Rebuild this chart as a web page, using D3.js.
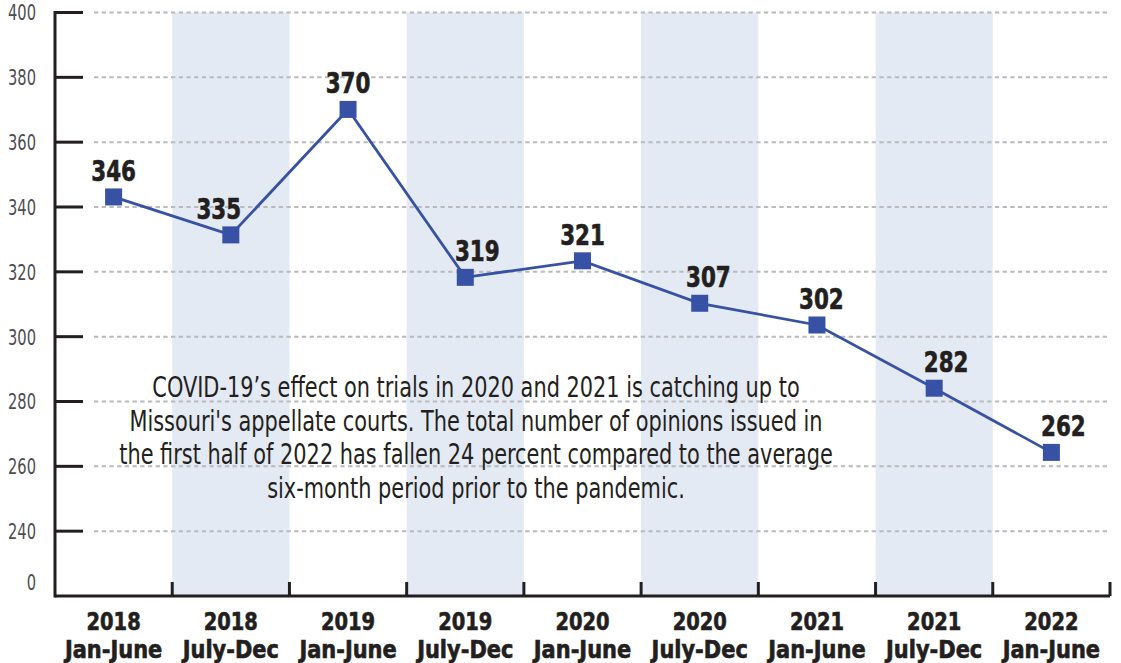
<!DOCTYPE html>
<meta charset="utf-8">
<head>
	<title>Appellate opinions</title>
	<script src="https://d3js.org/d3.v7.min.js" charset="utf-8"></script>
</head>

<style type="text/css">
	body {
		margin: 0;
		background: #fff;
		font-family: "DejaVu Sans Condensed", "Liberation Sans", sans-serif;
	}
	svg { display: block; }
	.band { fill: #e4eaf3; }
	.grid line {
		stroke: #b9b9be;
		stroke-width: 2;
		stroke-dasharray: 4.3 3.4;
	}
	.axis line { stroke: #231f20; stroke-width: 3; }
	.ytick { fill: #4d4d4f; font-size: 22px; }
	.xlab { fill: #231f20; font-size: 24px; font-weight: bold; stroke: #231f20; stroke-width: 0.6; }
	.vlab { fill: #231f20; font-size: 28px; font-weight: bold; stroke: #231f20; stroke-width: 0.6; }
	.note { fill: #231f20; font-size: 29px; }
	.line { fill: none; stroke: #3752a4; stroke-width: 2.8; }
	.marker { fill: #3752a4; }
</style>

<body>
<script>
	var years = ["2018", "2018", "2019", "2019", "2020", "2020", "2021", "2021", "2022"];
	var halves = ["Jan-June", "July-Dec", "Jan-June", "July-Dec", "Jan-June", "July-Dec", "Jan-June", "July-Dec", "Jan-June"];
	// where the squares sit on the axis
	var plotted = [343.1, 331.4, 370.1, 318.3, 323.4, 310.3, 303.6, 284.1, 264.3];
	// the numbers printed above them
	var labels = ["346", "335", "370", "319", "321", "307", "302", "282", "262"];
	var yTicks = [240, 260, 280, 300, 320, 340, 360, 380, 400];
	var note = [
		"COVID-19\u2019s effect on trials in 2020 and 2021 is catching up to",
		"Missouri's appellate courts. The total number of opinions issued in",
		"the first half of 2022 has fallen 24 percent compared to the average",
		"six-month period prior to the pandemic."
	];

	var width = 1121,
		height = 663,
		margin = {top: 12.5, right: 11, bottom: 67, left: 55};

	var svg = d3.select("body").append("svg")
		.attr("width", width)
		.attr("height", height);

	var x = d3.scaleBand()
		.domain(d3.range(plotted.length))
		.range([margin.left, width - margin.right]);

	var y = d3.scaleLinear()
		.domain([220, 400])
		.range([height - margin.bottom, margin.top]);

	var cx = function(i) { return x(i) + x.bandwidth() / 2; };

	// no condensed face like the original, so squeeze the text
	function condense(sel, k) {
		sel.each(function() {
			var w = this.getComputedTextLength();
			d3.select(this)
				.attr("textLength", w * k)
				.attr("lengthAdjust", "spacingAndGlyphs");
		});
	}

	// shaded half-year bands
	svg.append("g").selectAll("rect")
		.data(d3.range(plotted.length).filter(function(i) { return i % 2 === 1; }))
	 .enter().append("rect")
		.attr("class", "band")
		.attr("x", function(i) { return x(i); })
		.attr("y", y(400))
		.attr("width", x.bandwidth())
		.attr("height", y(220) - y(400));

	// dotted grid
	svg.append("g").attr("class", "grid").selectAll("line")
		.data(yTicks)
	 .enter().append("line")
		.attr("x1", margin.left + 39)
		.attr("x2", width - margin.right)
		.attr("y1", function(d) { return y(d); })
		.attr("y2", function(d) { return y(d); });

	var axis = svg.append("g").attr("class", "axis");

	axis.selectAll(".tick")
		.data(yTicks)
	 .enter().append("line")
		.attr("x1", margin.left)
		.attr("x2", margin.left + 28)
		.attr("y1", function(d) { return y(d); })
		.attr("y2", function(d) { return y(d); });

	axis.append("line")
		.attr("x1", margin.left).attr("x2", margin.left)
		.attr("y1", y(400) - 1.5).attr("y2", y(220) + 1.5);

	axis.append("line")
		.attr("x1", margin.left).attr("x2", width - margin.right)
		.attr("y1", y(220)).attr("y2", y(220));

	// little ticks between the periods
	axis.selectAll(".sep")
		.data(d3.range(1, plotted.length + 1))
	 .enter().append("line")
		.attr("x1", function(i) { return i < plotted.length ? x(i) : x.range()[1]; })
		.attr("x2", function(i) { return i < plotted.length ? x(i) : x.range()[1]; })
		.attr("y1", y(220))
		.attr("y2", y(220) - 14);

	var yl = svg.append("g").selectAll("text")
		.data(yTicks)
	 .enter().append("text")
		.attr("class", "ytick")
		.attr("x", 36)
		.attr("y", function(d) { return y(d); })
		.attr("dy", "0.36em")
		.attr("text-anchor", "end")
		.text(function(d) { return d; });
	condense(yl, 0.74);

	// broken axis: the bottom is labelled 0
	var zero = svg.append("text")
		.attr("class", "ytick")
		.attr("x", 36)
		.attr("y", y(220) - 14)
		.attr("dy", "0.36em")
		.attr("text-anchor", "end")
		.text("0");
	condense(zero, 0.74);

	// period labels
	var xg = svg.append("g");
	var years_t = xg.selectAll(".yr")
		.data(d3.range(plotted.length))
	 .enter().append("text")
		.attr("class", "xlab")
		.attr("text-anchor", "middle")
		.attr("x", cx)
		.attr("y", y(220) + 34)
		.text(function(i) { return years[i]; });
	condense(years_t, 0.9);
	var halves_t = xg.selectAll(".hf")
		.data(d3.range(plotted.length))
	 .enter().append("text")
		.attr("class", "xlab")
		.attr("text-anchor", "middle")
		.attr("x", cx)
		.attr("y", y(220) + 62)
		.text(function(i) { return halves[i]; });
	condense(halves_t, 0.97);

	// note
	var nt = svg.append("g").selectAll("text")
		.data(note)
	 .enter().append("text")
		.attr("class", "note")
		.attr("text-anchor", "middle")
		.attr("x", 476)
		.attr("y", function(d, i) { return 397 + i * 33.6; })
		.text(function(d) { return d; });
	condense(nt, 0.8);

	var line = d3.line()
		.x(function(d, i) { return cx(i); })
		.y(function(d) { return y(d); });

	svg.append("path")
		.datum(plotted)
		.attr("class", "line")
		.attr("d", line);

	svg.append("g").selectAll("rect")
		.data(plotted)
	 .enter().append("rect")
		.attr("class", "marker")
		.attr("x", function(d, i) { return cx(i) - 8.5; })
		.attr("y", function(d) { return y(d) - 8.5; })
		.attr("width", 17)
		.attr("height", 17);

	// push each value label away from the steeper upward segment
	function nudge(i) {
		var up = function(j) {
			if (j < 0 || j >= plotted.length) return 0;
			return Math.max(0, (y(plotted[i]) - y(plotted[j])) / x.bandwidth());
		};
		var d = up(i - 1) - up(i + 1);
		return 12 * Math.sign(d) * Math.min(1, Math.abs(d) / 0.5);
	}

	var vl = svg.append("g").selectAll("text")
		.data(plotted)
	 .enter().append("text")
		.attr("class", "vlab")
		.attr("text-anchor", "middle")
		.attr("x", function(d, i) { return cx(i) + nudge(i); })
		.attr("y", function(d) { return y(d) - 16; })
		.text(function(d, i) { return labels[i]; });
	condense(vl, 0.85);
</script>
</body>
